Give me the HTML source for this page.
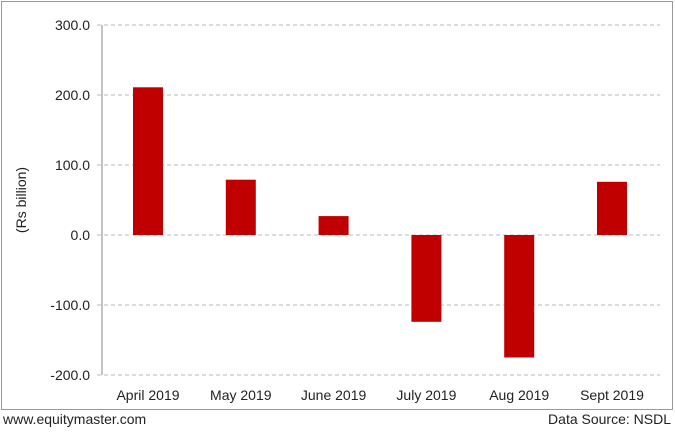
<!DOCTYPE html>
<html><head><meta charset="utf-8"><style>
body{margin:0;background:#fff;font-family:"Liberation Sans",sans-serif;}
</style></head><body>
<svg width="675" height="429" xmlns="http://www.w3.org/2000/svg">
<rect x="1.5" y="1.5" width="671" height="408" fill="#fff" stroke="#999"/>
<g id="grid"></g><g id="bars"></g><g id="ylabels"></g><g id="xlabels"></g>
<line x1="102" y1="25" x2="102" y2="375" stroke="#888"/>
<text x="26" y="200" font-size="14" fill="#222" transform="rotate(-90 26 200)" text-anchor="middle">(Rs billion)</text>
<text x="3" y="424" font-size="14" fill="#222">www.equitymaster.com</text>
<text x="671" y="424" font-size="14" fill="#222" text-anchor="end">Data Source: NSDL</text>
</svg>
<script>
const categories=["April 2019","May 2019","June 2019","July 2019","Aug 2019","Sept 2019"];
const values=[211,79,27,-124,-175,76];
const ticks=[300,200,100,0,-100,-200];
const tickLabels=["300.0","200.0","100.0","0.0","-100.0","-200.0"];
const ns="http://www.w3.org/2000/svg";
const y=v=>235-v*0.7;
const x=i=>148+i*92.8;
function mk(t,a,p){const e=document.createElementNS(ns,t);for(const k in a)e.setAttribute(k,a[k]);p.appendChild(e);return e;}
ticks.forEach((t,i)=>{
 const l=mk('line',{x1:97,x2:660,y1:y(t),y2:y(t),stroke:'#bbb','stroke-dasharray':'4,3'},document.getElementById('grid'));
 
 
 const tx=mk('text',{x:90,y:y(t)+5,'font-size':14,'text-anchor':'end',fill:'#222'},document.getElementById('ylabels'));
 tx.textContent=tickLabels[i];
 
 
});
values.forEach((v,i)=>{
 const r=mk('rect',{x:x(i)-15,y:Math.min(y(v),y(0)),width:30,height:Math.abs(y(v)-y(0)),fill:'#c00000'},document.getElementById('bars'));
 
 
 const tx=mk('text',{x:x(i),y:400,'font-size':14,'text-anchor':'middle',fill:'#222'},document.getElementById('xlabels'));
 tx.textContent=categories[i];
 
 
});
</script>
</body></html>
